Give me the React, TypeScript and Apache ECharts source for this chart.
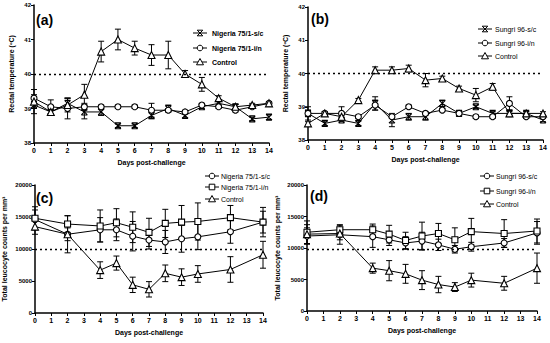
import React, { useEffect, useRef } from "react";
import * as echarts from "echarts";

const daysTemp = [0, 1, 2, 3, 4, 5, 6, 7, 8, 9, 10, 11, 12, 13, 14];
const daysWbc = [0, 2, 4, 5, 6, 7, 8, 9, 10, 12, 14];

// Panel (a) Nigeria 75/1 rectal temperature
const aSc = [39.1, 38.9, 39.15, 38.9, 38.9, 38.5, 38.5, 38.8, 39.0, 38.8, 39.05, 39.15, 39.05, 38.7, 38.75];
const aScErr = [0.1, 0.05, 0.15, 0.2, 0.1, 0.05, 0.05, 0.1, 0.1, 0.07, 0.05, 0.05, 0.07, 0.05, 0.07];
const aIn = [39.3, 39.05, 39.0, 39.05, 39.05, 39.05, 39.05, 38.95, 38.95, 38.9, 39.1, 39.05, 38.95, 39.05, 39.15];
const aInErr = [0.1, 0.2, 0.3, 0.1, 0.05, 0.05, 0.05, 0.2, 0.05, 0.05, 0.05, 0.05, 0.05, 0.05, 0.05];
const aCtl = [39.2, 38.9, 39.1, 39.4, 40.65, 41.0, 40.75, 40.55, 40.55, 40.0, 39.7, 39.3, 39.05, 39.1, 39.15];
const aCtlErr = [0.35, 0.05, 0.2, 0.3, 0.3, 0.3, 0.2, 0.3, 0.4, 0.1, 0.2, 0.07, 0.07, 0.05, 0.05];

// Panel (b) Sungri 96 rectal temperature
const bSc = [38.8, 38.5, 38.6, 38.5, 39.1, 38.6, 38.7, 38.7, 39.1, 38.8, 39.0, 38.8, 38.8, 38.8, 38.6];
const bScErr = [0.2, 0.07, 0.05, 0.07, 0.2, 0.2, 0.1, 0.1, 0.1, 0.05, 0.05, 0.05, 0.1, 0.05, 0.05];
const bIn = [38.8, 38.8, 38.8, 38.7, 39.05, 38.7, 39.0, 38.8, 38.9, 38.8, 38.7, 38.7, 39.1, 38.7, 38.7];
const bInErr = [0.1, 0.05, 0.2, 0.05, 0.15, 0.05, 0.05, 0.05, 0.05, 0.05, 0.05, 0.05, 0.2, 0.05, 0.05];
const bCtl = [38.5, 38.8, 38.7, 39.2, 40.1, 40.1, 40.15, 39.8, 39.85, 39.55, 39.35, 39.6, 38.8, 38.8, 38.8];
const bCtlErr = [0.05, 0.05, 0.05, 0.05, 0.1, 0.1, 0.1, 0.2, 0.07, 0.07, 0.2, 0.1, 0.05, 0.05, 0.05];

// Panel (c) Nigeria 75/1 leucocyte counts
const cSc = [14600, 12300, 13000, 13000, 12000, 11400, 11100, 11600, 11900, 12700, 14200];
const cScErr = [1500, 2900, 1900, 1700, 2300, 1400, 1800, 2100, 2000, 1800, 1700];
const cIn = [14800, 13900, 13600, 14100, 13400, 12600, 14000, 14200, 14300, 14900, 14200];
const cInErr = [1800, 1300, 2500, 2200, 2400, 2200, 2200, 2600, 2900, 1900, 2300];
const cCtl = [13500, 12300, 6700, 7800, 4400, 3700, 6200, 5600, 6100, 6800, 9100];
const cCtlErr = [1200, 1000, 1300, 1100, 1200, 1200, 1300, 1300, 1300, 2000, 2100];

// Panel (d) Sungri 96 leucocyte counts
const dSc = [11900, 12100, 11800, 11300, 10800, 11100, 10500, 9800, 10200, 10800, 12400];
const dScErr = [1300, 1500, 1700, 900, 1000, 1400, 900, 600, 700, 700, 1800];
const dIn = [12500, 12900, 12900, 12200, 11200, 11900, 12300, 11300, 12600, 12300, 12700];
const dInErr = [1800, 800, 900, 1400, 1300, 2200, 1600, 1900, 2100, 2200, 1900];
const dCtl = [12200, 12300, 6800, 6400, 5900, 4900, 4200, 3800, 4900, 4400, 6800];
const dCtlErr = [1500, 1000, 800, 1600, 1500, 1500, 1300, 700, 1100, 1100, 2400];

const tempTicks = [38, 42, 1];
const wbcTicks = [0, 20000, 5000];
const thresholds = [40, 40, 10000, 9800];

const FONT = "Liberation Sans, Arial, sans-serif";
const X_SYM = "path://M0,0L10,0M0,10L10,10M0,0L10,10M10,0L0,10";

function legendMarker(sym: string, cx: number, cy: number): any[] {
  const st = { stroke: "#000", lineWidth: 1, fill: "#fff" };
  const line = { type: "line", shape: { x1: cx - 7, y1: cy, x2: cx + 7, y2: cy }, style: { stroke: "#000", lineWidth: 1 } };
  if (sym === "circle") return [line, { type: "circle", shape: { cx, cy, r: 2.8 }, style: st }];
  if (sym === "rect") return [line, { type: "rect", shape: { x: cx - 2.8, y: cy - 2.8, width: 5.6, height: 5.6 }, style: st }];
  if (sym === "triangle")
    return [line, { type: "polygon", shape: { points: [[cx, cy - 3.5], [cx + 3.5, cy + 2.8], [cx - 3.5, cy + 2.8]] }, style: st }];
  const s = 2.8;
  const ls = { stroke: "#000", lineWidth: 1 };
  return [
    line,
    { type: "line", shape: { x1: cx - s, y1: cy - s, x2: cx + s, y2: cy + s }, style: ls },
    { type: "line", shape: { x1: cx + s, y1: cy - s, x2: cx - s, y2: cy + s }, style: ls },
    { type: "line", shape: { x1: cx - s, y1: cy - s, x2: cx + s, y2: cy - s }, style: ls },
    { type: "line", shape: { x1: cx - s, y1: cy + s, x2: cx + s, y2: cy + s }, style: ls },
  ];
}

export default function App() {
  const ref = useRef<HTMLDivElement>(null);
  useEffect(() => {
    if (!ref.current) return;
    const chart = echarts.init(ref.current, undefined, { renderer: "svg" });

    const grids = [
      { left: 34, right: 281, top: 5, bottom: 200 },
      { left: 308, right: 7, top: 7, bottom: 203 },
      { left: 34, right: 287, top: 185, bottom: 30 },
      { left: 307, right: 13, top: 185, bottom: 32 },
    ];
    const yNames = [
      "Rectal temperature (ºC)",
      "Rectal temperature (ºC)",
      "Total leucocyte counts per mm³",
      "Total leucocyte counts per mm³",
    ];
    const yGaps = [19, 19, 27, 26];
    const yRanges = [tempTicks, tempTicks, wbcTicks, wbcTicks];

    const xAxis = grids.map((_, i) => ({
      type: "value",
      gridIndex: i,
      min: 0,
      max: 14,
      interval: 1,
      name: "Days post-challenge",
      nameLocation: "middle",
      nameGap: 16,
      nameTextStyle: { fontFamily: FONT, fontSize: 7, fontWeight: "bold", color: "#000" },
      axisLine: { lineStyle: { color: "#000", width: 1.5 } },
      axisTick: { length: 3, lineStyle: { color: "#000", width: 1 } },
      axisLabel: { fontFamily: FONT, fontSize: 7, fontWeight: "bold", color: "#000", margin: 4 },
      splitLine: { show: false },
    }));
    const yAxis = grids.map((_, i) => ({
      type: "value",
      gridIndex: i,
      min: yRanges[i][0],
      max: yRanges[i][1],
      interval: yRanges[i][2],
      name: yNames[i],
      nameLocation: "middle",
      nameGap: yGaps[i],
      nameTextStyle: { fontFamily: FONT, fontSize: 7, fontWeight: "bold", color: "#000" },
      axisLine: { show: true, lineStyle: { color: "#000", width: 1.5 } },
      axisTick: { show: true, length: 3, lineStyle: { color: "#000", width: 1 } },
      axisLabel: {
        fontFamily: FONT,
        fontSize: 6,
        fontWeight: "bold",
        color: "#000",
        margin: 3,
        formatter: (v: number) => String(v),
      },
      splitLine: { show: false },
    }));

    const panels = [
      {
        tag: "a", days: daysTemp, lx: 200, ly: [33, 48, 62], tx: 212, bold: true,
        groups: [
          { name: "Nigeria 75/1-s/c", v: aSc, e: aScErr, sym: "x", size: 6 },
          { name: "Nigeria 75/1-i/n", v: aIn, e: aInErr, sym: "circle", size: 6 },
          { name: "Control", v: aCtl, e: aCtlErr, sym: "triangle", size: 7 },
        ],
      },
      {
        tag: "b", days: daysTemp, lx: 485, ly: [29, 43, 56], tx: 495, bold: false,
        groups: [
          { name: "Sungri 96-s/c", v: bSc, e: bScErr, sym: "x", size: 6 },
          { name: "Sungri 96-i/n", v: bIn, e: bInErr, sym: "circle", size: 6 },
          { name: "Control", v: bCtl, e: bCtlErr, sym: "triangle", size: 7 },
        ],
      },
      {
        tag: "c", days: daysWbc, lx: 212, ly: [176, 187, 199], tx: 221, bold: false,
        groups: [
          { name: "Nigeria 75/1-s/c", v: cSc, e: cScErr, sym: "circle", size: 6 },
          { name: "Nigeria 75/1-i/n", v: cIn, e: cInErr, sym: "rect", size: 6 },
          { name: "Control", v: cCtl, e: cCtlErr, sym: "triangle", size: 7 },
        ],
      },
      {
        tag: "d", days: daysWbc, lx: 487, ly: [176, 191, 204], tx: 496, bold: false,
        groups: [
          { name: "Sungri 96-s/c", v: dSc, e: dScErr, sym: "circle", size: 6 },
          { name: "Sungri 96-i/n", v: dIn, e: dInErr, sym: "rect", size: 6 },
          { name: "Control", v: dCtl, e: dCtlErr, sym: "triangle", size: 7 },
        ],
      },
    ];

    const series: any[] = [];
    const graphic: any[] = [];
    panels.forEach((p, pi) => {
      p.groups.forEach((g, gi) => {
        series.push({
          type: "custom",
          xAxisIndex: pi,
          yAxisIndex: pi,
          z: 1,
          silent: true,
          data: p.days.map((d, k) => [d, g.v[k] - g.e[k], g.v[k] + g.e[k]]),
          renderItem: (params: any, api: any) => {
            const x = api.value(0);
            const lo = api.coord([x, api.value(1)]);
            const hi = api.coord([x, api.value(2)]);
            const w = 3;
            const st = { stroke: "#000", lineWidth: 1 };
            return {
              type: "group",
              children: [
                { type: "line", shape: { x1: lo[0], y1: lo[1], x2: hi[0], y2: hi[1] }, style: st },
                { type: "line", shape: { x1: lo[0] - w, y1: lo[1], x2: lo[0] + w, y2: lo[1] }, style: st },
                { type: "line", shape: { x1: hi[0] - w, y1: hi[1], x2: hi[0] + w, y2: hi[1] }, style: st },
              ],
            };
          },
        });
        series.push({
          type: "line",
          name: g.name + " (" + p.tag + ")",
          xAxisIndex: pi,
          yAxisIndex: pi,
          z: 3,
          data: p.days.map((d, k) => [d, g.v[k]]),
          symbol: g.sym === "x" ? X_SYM : g.sym,
          symbolSize: g.size,
          showAllSymbol: true,
          lineStyle: { color: "#000", width: 1 },
          itemStyle: { color: "#fff", borderColor: "#000", borderWidth: 1.1 },
          markLine:
            gi === 0
              ? {
                  silent: true,
                  symbol: "none",
                  label: { show: false },
                  lineStyle: { color: "#000", type: [2, 3], width: 1.3 },
                  data: [{ yAxis: thresholds[pi] }],
                }
              : undefined,
        });
        graphic.push(...legendMarker(g.sym, p.lx, p.ly[gi]));
        graphic.push({
          type: "text",
          x: p.tx,
          y: p.ly[gi],
          style: {
            text: g.name,
            font: `${p.bold ? "bold " : ""}7px ${FONT}`,
            fill: "#000",
            textVerticalAlign: "middle",
            verticalAlign: "middle",
          },
        });
      });
    });

    const labels = [
      { t: "(a)", x: 36, y: 13 },
      { t: "(b)", x: 311, y: 12 },
      { t: "(c)", x: 36, y: 191 },
      { t: "(d)", x: 310, y: 189 },
    ];
    labels.forEach((l) =>
      graphic.push({
        type: "text",
        x: l.x,
        y: l.y,
        style: { text: l.t, font: `bold 14px ${FONT}`, fill: "#000" },
      })
    );

    chart.setOption({
      animation: false,
      backgroundColor: "#fff",
      grid: grids,
      xAxis,
      yAxis,
      series,
      graphic,
    });
    return () => chart.dispose();
  }, []);
  return <div ref={ref} style={{ width: 550, height: 343, position: "absolute", left: 0, top: 0 }} />;
}
